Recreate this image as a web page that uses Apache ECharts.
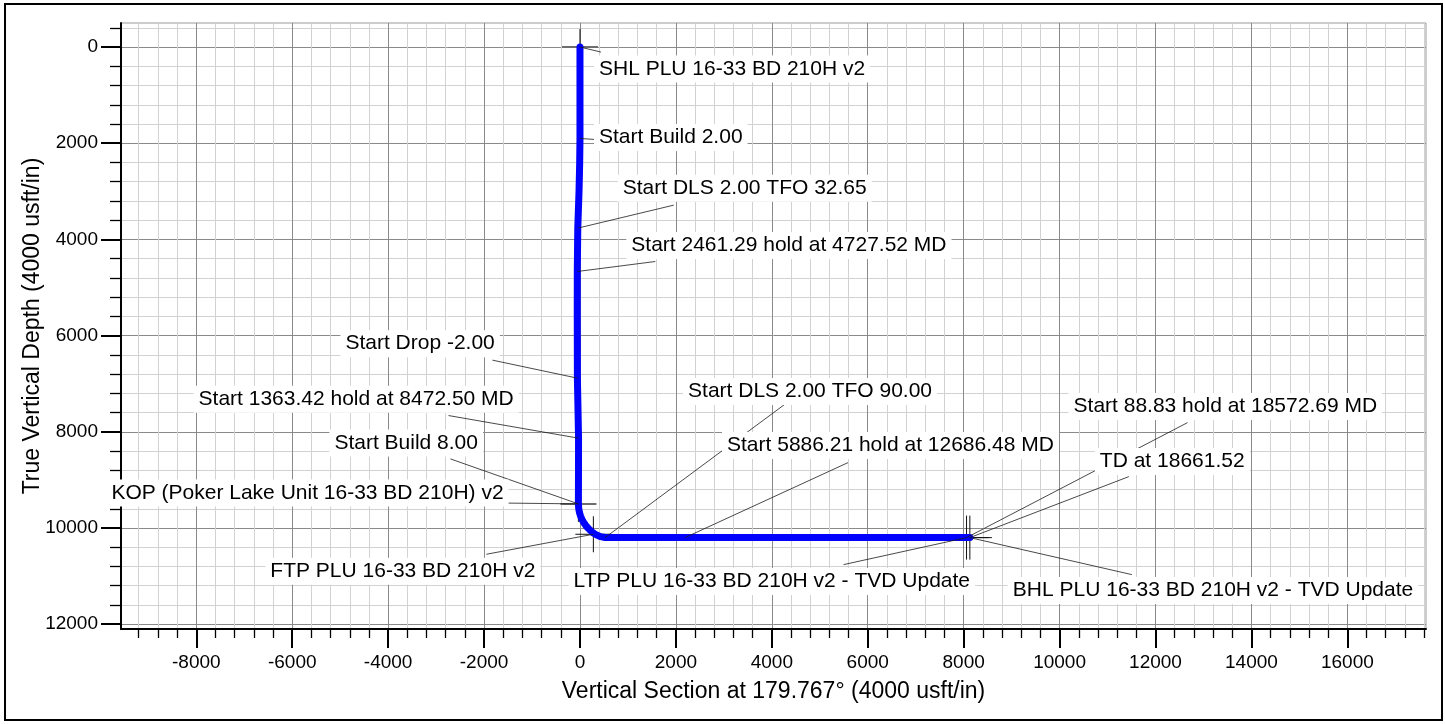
<!DOCTYPE html>
<html>
<head>
<meta charset="utf-8">
<script src="https://cdn.jsdelivr.net/npm/echarts@6/dist/echarts.min.js"></script>
<style>
  html, body { margin: 0; padding: 0; background: #fff; }
  #chart { width: 1445px; height: 724px; }
</style>
</head>
<body>
<div id="chart"></div>
<script>
// ---- Well path: vertical section (usft) and true vertical depth (usft) ----
const pathVS  = [0, 0, -6, -20, -46, -56, -57, -55, -54, -42, -30, -31, -33,
                 -26, -10, 12, 45, 90, 142, 210, 279, 350, 430, 523, 620, 2190, 8060, 8129];
const pathTVD = [0, 1900, 2400, 3000, 3765, 4667, 5500, 6300, 6884, 7500, 8132, 8800, 9499,
                 9600, 9680, 9750, 9830, 9905, 9975, 10045, 10105, 10148, 10180, 10198, 10200, 10200, 10200, 10200];

// ---- Annotated stations along the path ----
const annotText = [
  'SHL PLU 16-33 BD 210H v2',
  'Start Build 2.00',
  'Start DLS 2.00 TFO 32.65',
  'Start 2461.29 hold at 4727.52 MD',
  'Start Drop -2.00',
  'Start 1363.42 hold at 8472.50 MD',
  'Start Build 8.00',
  'KOP (Poker Lake Unit 16-33 BD 210H) v2',
  'FTP PLU 16-33 BD 210H v2',
  'Start DLS 2.00 TFO 90.00',
  'Start 5886.21 hold at 12686.48 MD',
  'Start 88.83 hold at 18572.69 MD',
  'TD at 18661.52',
  'LTP PLU 16-33 BD 210H v2 - TVD Update',
  'BHL PLU 16-33 BD 210H v2 - TVD Update'
];
const annotVS  = [0, 0, -46, -56, -54, -30, -33, -33, 279, 523, 2190, 8060, 8129, 8060, 8129];
const annotTVD = [0, 1900, 3765, 4667, 6884, 8132, 9499, 9499, 10130, 10200, 10200, 10200, 10200, 10200, 10200];

// ---- Targets marked with a cross ----
const targetVS  = [0, -33, 279, 8060, 8129];
const targetTVD = [0, 9499, 10130, 10200, 10200];

// ---- Axis ticks ----
const xMajorTicks = [-8000, -6000, -4000, -2000, 0, 2000, 4000, 6000, 8000, 10000, 12000, 14000, 16000];
const yMajorTicks = [0, 2000, 4000, 6000, 8000, 10000, 12000];

// minor ticks every 400 usft (majors excluded)
function minorTicks(from, to) {
  const out = [];
  for (let v = from; v <= to; v += 400) { if (v % 2000 !== 0) out.push(v); }
  return out;
}
const xMinorTicks = minorTicks(-9200, 17600);
const yMinorTicks = minorTicks(-400, 12000);

// ---- Label placement (pixel offsets from each station): text anchor and leader end ----
const annotLayout = [
  { text: [19, 22],      leader: [21, 5] },
  { text: [19, -1],      leader: [14, 1] },
  { text: [45, -40],     leader: [96, -23] },
  { text: [54, -26],     leader: [78, -10] },
  { text: [-232, -34.5], leader: [-85, -18] },
  { text: [-380, -39],   leader: [-130, -22.6] },
  { text: [-244, -61],   leader: [-128, -45] },
  { text: [-467, -11],   leader: [-88, -1] },
  { text: [-323, 37],    leader: [-107, 20] },
  { text: [83, -146],    leader: [182, -135] },
  { text: [42, -92],     leader: [163, -75] },
  { text: [107, -131],   leader: [221, -115] },
  { text: [130, -76],    leader: [159, -61] },
  { text: [-393, 44],    leader: [-123, 27] },
  { text: [43, 53],      leader: [162, 37] }
];
const targetHalf = [18, 18, 18, 22, 22];

const FONT = 'Liberation Sans';
const X_MIN = -9570, X_MAX = 17640, Y_MIN = -500, Y_MAX = 12100;

const chart = echarts.init(document.getElementById('chart'), null, { renderer: 'canvas' });

const baseX = { type: 'value', min: X_MIN, max: X_MAX, position: 'bottom', gridIndex: 0 };
const baseY = { type: 'value', min: Y_MIN, max: Y_MAX, position: 'left', inverse: true, gridIndex: 0 };

chart.setOption({
  animation: false,
  backgroundColor: '#fff',
  graphic: [{
    type: 'rect', silent: true, z: 100,
    shape: { x: 5, y: 4, width: 1437, height: 716 },
    style: { fill: 'none', stroke: '#000', lineWidth: 2 }
  }],
  grid: {
    left: 121, right: 19, top: 23, bottom: 95,
    show: true, backgroundColor: '#fff', borderColor: '#999', borderWidth: 1,
    containLabel: false, outerBoundsMode: 'none'
  },
  xAxis: [
    Object.assign({}, baseX, {
      name: 'Vertical Section at 179.767\u00b0 (4000 usft/in)',
      nameLocation: 'middle', nameGap: 51, nameMoveOverlap: false,
      nameTextStyle: { fontSize: 23, fontFamily: FONT, color: '#000' },
      axisLine: { show: true, onZero: false, lineStyle: { color: '#000', width: 2 } },
      axisTick: { show: true, customValues: xMajorTicks, length: 19, lineStyle: { color: '#000', width: 2 } },
      axisLabel: { customValues: xMajorTicks, fontSize: 19, fontFamily: FONT, color: '#000', margin: 24,
                   formatter: v => String(v) },
      splitLine: { show: true, lineStyle: { color: '#8a8a8a', width: 1 } }
    }),
    Object.assign({}, baseX, {
      axisLine: { show: false, onZero: false },
      axisTick: { show: true, customValues: xMinorTicks, length: 9, lineStyle: { color: '#000', width: 1.3 } },
      axisLabel: { show: false },
      splitLine: { show: true, lineStyle: { color: '#d2d2d2', width: 1 } }
    })
  ],
  yAxis: [
    Object.assign({}, baseY, {
      name: 'True Vertical Depth (4000 usft/in)',
      nameLocation: 'middle', nameGap: 77, nameMoveOverlap: false,
      nameTextStyle: { fontSize: 23, fontFamily: FONT, color: '#000' },
      axisLine: { show: true, onZero: false, lineStyle: { color: '#000', width: 2 } },
      axisTick: { show: true, customValues: yMajorTicks, length: 20, lineStyle: { color: '#000', width: 2 } },
      axisLabel: { customValues: yMajorTicks, fontSize: 19, fontFamily: FONT, color: '#000', margin: 23,
                   formatter: v => String(v) },
      splitLine: { show: true, lineStyle: { color: '#8a8a8a', width: 1 } }
    }),
    Object.assign({}, baseY, {
      axisLine: { show: false, onZero: false },
      axisTick: { show: true, customValues: yMinorTicks, length: 11, lineStyle: { color: '#000', width: 1.3 } },
      axisLabel: { show: false },
      splitLine: { show: true, lineStyle: { color: '#d2d2d2', width: 1 } }
    })
  ],
  series: [
    // target crosses, drawn beneath the well path
    {
      type: 'custom', name: 'targets', xAxisIndex: 0, yAxisIndex: 0, z: 2, clip: false, silent: true,
      data: targetVS.map((v, i) => [v, targetTVD[i], i]),
      renderItem: function (params, api) {
        const i = api.value(2);
        const p = api.coord([api.value(0), api.value(1)]);
        const h = targetHalf[i];
        const grey = (i <= 1);
        return {
          type: 'group',
          children: [
            { type: 'line', shape: { x1: p[0], y1: p[1] - h, x2: p[0], y2: p[1] + h },
              style: { stroke: '#111', lineWidth: 1 } },
            { type: 'line', shape: { x1: p[0] - h, y1: p[1], x2: p[0] + h, y2: p[1] },
              style: { stroke: grey ? '#6e6e6e' : '#111', lineWidth: grey ? 2 : 1 } }
          ]
        };
      }
    },
    // well path
    {
      type: 'line', name: 'Well path', xAxisIndex: 0, yAxisIndex: 0, z: 3,
      data: pathVS.map((v, i) => [v, pathTVD[i]]),
      showSymbol: false, symbol: 'none', silent: true, clip: false,
      lineStyle: { color: '#0000ff', width: 7, cap: 'round', join: 'round' }
    },
    // leader lines from stations to their labels
    {
      type: 'custom', name: 'leaders', xAxisIndex: 0, yAxisIndex: 0, z: 4, clip: false, silent: true,
      data: annotVS.map((v, i) => [v, annotTVD[i], i]),
      renderItem: function (params, api) {
        const i = api.value(2);
        const p = api.coord([api.value(0), api.value(1)]);
        const L = annotLayout[i];
        return {
          type: 'line',
          shape: { x1: p[0], y1: p[1], x2: p[0] + L.leader[0], y2: p[1] + L.leader[1] },
          style: { stroke: '#1a1a1a', lineWidth: 0.8 }
        };
      }
    },
    // station labels on white boxes
    {
      type: 'custom', name: 'labels', xAxisIndex: 0, yAxisIndex: 0, z: 5, clip: false, silent: true,
      data: annotVS.map((v, i) => [v, annotTVD[i], i]),
      renderItem: function (params, api) {
        const i = api.value(2);
        const p = api.coord([api.value(0), api.value(1)]);
        const L = annotLayout[i];
        return {
          type: 'text',
          x: p[0] + L.text[0] - 5,
          y: p[1] + L.text[1],
          style: {
            text: annotText[i], fill: '#000', fontSize: 21, fontFamily: FONT,
            backgroundColor: '#fff', padding: [3, 5, 3, 5],
            align: 'left', verticalAlign: 'middle'
          }
        };
      }
    }
  ]
});
</script>
</body>
</html>
